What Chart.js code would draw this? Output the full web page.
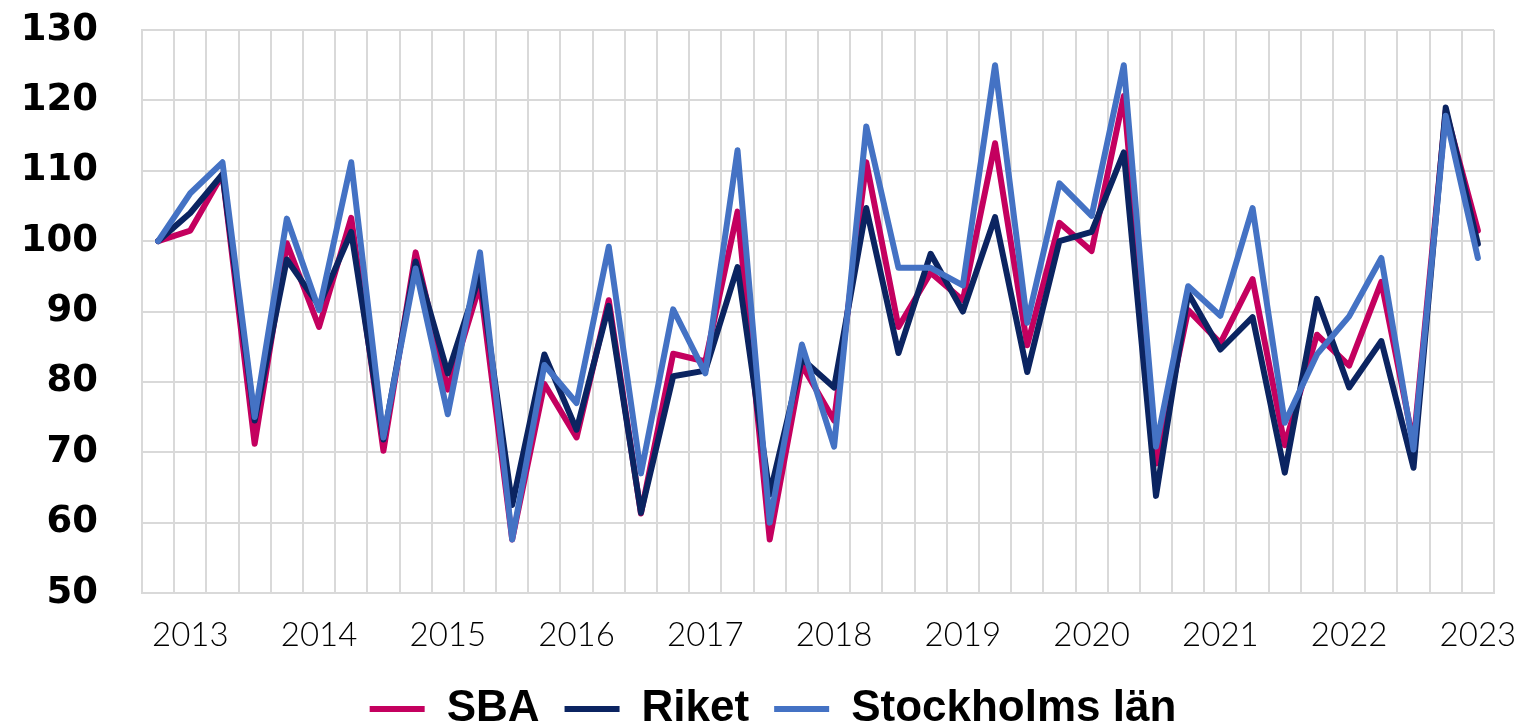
<!DOCTYPE html>
<html>
<head>
<meta charset="utf-8">
<script src="https://cdn.jsdelivr.net/npm/chart.js@4/dist/chart.umd.min.js"></script>
<style>
  html, body { margin: 0; padding: 0; background: #ffffff; }
  #wrap { position: relative; width: 1519px; height: 727px; }
</style>
</head>
<body>
<div id="wrap"><canvas id="c" width="1519" height="727"></canvas></div>
<script>
// Quarters 2013 Q1 – 2023 Q2
const quarters = [];
for (let y = 2013; y <= 2023; y++) {
  for (let q = 1; q <= 4; q++) {
    if (y === 2023 && q > 2) break;
    quarters.push(y + ' K' + q);
  }
}
// Year labels shown under the second quarter of each year
const tickLabels = quarters.map(function (s) { return s.endsWith('K2') ? s.slice(0, 4) : ''; });

const sba = [100, 101.5, 109.5, 71.2, 99.7, 87.8, 103.3, 70.2, 98.4, 78.9,
  93.9, 57.6, 79.7, 72.1, 91.6, 61.3, 84.0, 82.9, 104.2, 57.6,
  82.4, 74.5, 111.2, 87.8, 95.5, 91.6, 113.9, 85.2, 102.6, 98.6,
  120.6, 68.4, 90.2, 85.5, 94.6, 71.0, 86.7, 82.3, 94.2, 71.2,
  118.5, 101.5];
const riket = [100, 104.0, 109.5, 74.5, 97.4, 90.8, 101.3, 71.8, 97.1, 81.2,
  95.3, 62.5, 83.9, 73.2, 90.8, 61.4, 80.8, 81.6, 96.3, 64.0,
  83.3, 79.2, 104.7, 84.1, 98.2, 90.0, 103.4, 81.4, 100.0, 101.3,
  112.6, 63.8, 92.6, 84.6, 89.2, 67.1, 91.8, 79.2, 85.8, 67.8,
  119.0, 99.6];
const stockholm = [100, 106.8, 111.2, 75.0, 103.2, 90.2, 111.2, 72.1, 96.1, 75.4,
  98.4, 57.6, 82.4, 77.0, 99.2, 67.0, 90.3, 81.2, 112.9, 60.0,
  85.3, 70.8, 116.3, 96.2, 96.2, 93.7, 125.0, 88.4, 108.2, 103.6,
  125.0, 70.8, 93.6, 89.4, 104.7, 74.2, 83.9, 89.3, 97.6, 70.4,
  117.8, 97.6];

const seriesNames = ['SBA', 'Riket', 'Stockholms län'];
const yMin = 50, yMax = 130, yStep = 10;

const colors = ['#C4005F', '#0B2461', '#4472C4'];

function ds(label, data, color, order) {
  return {
    label: label,
    data: data,
    borderColor: color,
    backgroundColor: color,
    borderWidth: 6,
    pointRadius: 0,
    pointHoverRadius: 0,
    tension: 0,
    fill: false,
    borderJoinStyle: 'round',
    borderCapStyle: 'round',
    order: order
  };
}

// Fix the legend's height and nudge it horizontally to match the reference
const legendLayoutPlugin = {
  id: 'legendLayout',
  beforeInit: function (chart) {
    const lg = chart.legend;
    if (!lg) return;
    const origFit = lg.fit;
    lg.fit = function () {
      origFit.call(this);
      this.height = 65;
    };
  },
  afterLayout: function (chart) {
    const lg = chart.legend;
    if (!lg) return;
    lg.left += 21;
    lg.right += 21;
  }
};

new Chart(document.getElementById('c'), {
  type: 'line',
  data: {
    labels: quarters,
    datasets: [
      ds(seriesNames[0], sba, colors[0], 3),
      ds(seriesNames[1], riket, colors[1], 2),
      ds(seriesNames[2], stockholm, colors[2], 1)
    ]
  },
  plugins: [legendLayoutPlugin],
  options: {
    responsive: false,
    animation: false,
    events: [],
    layout: { padding: { left: 10, right: 25, top: 30, bottom: 0 } },
    plugins: {
      tooltip: { enabled: false },
      legend: {
        position: 'bottom',
        labels: {
          usePointStyle: true,
          pointStyle: 'line',
          pointStyleWidth: 55,
          boxHeight: 6,
          padding: 25,
          color: '#000000',
          font: { family: '"Liberation Sans", Arial, sans-serif', size: 44, weight: 'bold' },
          sort: function (a, b) { return a.datasetIndex - b.datasetIndex; }
        }
      }
    },
    scales: {
      x: {
        type: 'category',
        offset: true,
        grid: { offset: true, color: '#d9d9d9', lineWidth: 2, drawTicks: false },
        border: { display: true, color: '#d9d9d9', width: 2 },
        afterFit: function (scale) {
          scale.height = 69;
          scale.paddingLeft = 0;
          scale.paddingRight = 0;
        },
        ticks: {
          autoSkip: false,
          maxRotation: 0,
          minRotation: 0,
          padding: 23,
          color: '#000000',
          font: { family: 'Lato, "Open Sans", sans-serif', size: 33, weight: '300' },
          callback: function (v, i) { return tickLabels[i]; }
        }
      },
      y: {
        min: yMin,
        max: yMax,
        grid: { color: '#d9d9d9', lineWidth: 2, drawTicks: false },
        border: { display: true, color: '#d9d9d9', width: 2 },
        afterFit: function (scale) {
          scale.width = 132;
          scale.paddingTop = 0;
          scale.paddingBottom = 0;
        },
        ticks: {
          stepSize: yStep,
          padding: 44,
          color: '#000000',
          font: { family: '"DejaVu Sans", sans-serif', size: 37, weight: 'bold' }
        }
      }
    }
  }
});
</script>
</body>
</html>
